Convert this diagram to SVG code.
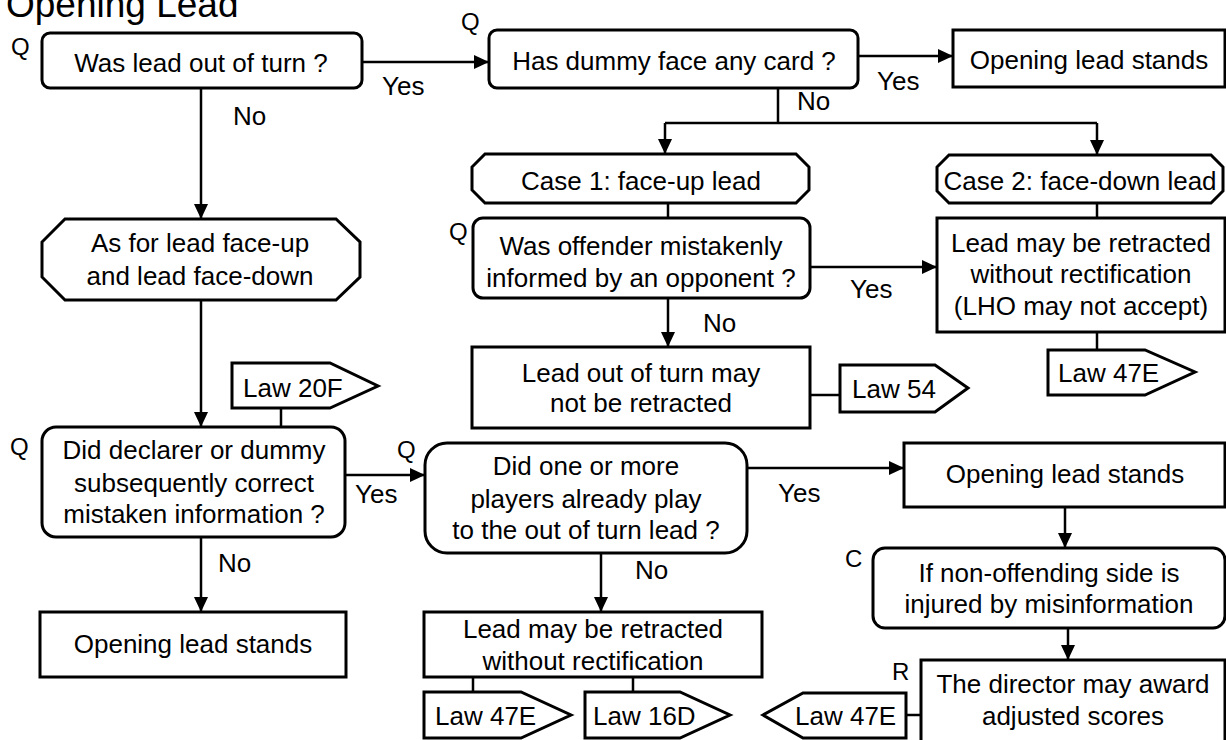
<svg xmlns="http://www.w3.org/2000/svg" width="1226" height="740" viewBox="0 0 1226 740">
<style>
text{font-family:"Liberation Sans",Arial,sans-serif;font-size:26px;fill:#000}
.c{text-anchor:middle}
.t{font-size:37px}
.lbl{font-size:24px}
.box{fill:#fff;stroke:#000;stroke-width:3}
.ln{fill:none;stroke:#000;stroke-width:2.5}
.ar{fill:none;stroke:#000;stroke-width:2.5;marker-end:url(#ah)}
</style>
<defs>
<marker id="ah" markerUnits="userSpaceOnUse" markerWidth="15" markerHeight="14" refX="15" refY="7" orient="auto">
<path d="M0,0 L15,7 L0,14 z" fill="#000"/>
</marker>
</defs>
<rect width="1226" height="740" fill="#fff"/>
<text class="t" x="6" y="17">Opening Lead</text>

<g id="connectors">
<path class="ar" d="M362,62 H489"/>
<path class="ar" d="M858,56 H953"/>
<path class="ar" d="M201,88 V219"/>
<path class="ln" d="M778,88 V123 M665,123 H1097"/>
<path class="ar" d="M665,123 V154"/>
<path class="ar" d="M1097,123 V155"/>
<path class="ln" d="M668,203 V218"/>
<path class="ln" d="M1097,203 V218"/>
<path class="ar" d="M810,267 H937"/>
<path class="ar" d="M668,298 V347"/>
<path class="ln" d="M810,395 H840"/>
<path class="ln" d="M1097,332 V350"/>
<path class="ar" d="M201,300 V427"/>
<path class="ln" d="M281,408 V427"/>
<path class="ar" d="M345,475 H425"/>
<path class="ar" d="M201,537 V612"/>
<path class="ar" d="M747,468 H904"/>
<path class="ar" d="M601,553 V612"/>
<path class="ln" d="M473,677 V692 M633,677 V692"/>
<path class="ar" d="M1065,507 V548"/>
<path class="ar" d="M1068,628 V660"/>
<path class="ln" d="M906,715 H921"/>
<text x="382" y="95">Yes</text>
<text x="877" y="90">Yes</text>
<text x="850" y="298">Yes</text>
<text x="355" y="503">Yes</text>
<text x="778" y="502">Yes</text>
<text x="233" y="125">No</text>
<text x="797" y="110">No</text>
<text x="703" y="332">No</text>
<text x="218" y="572">No</text>
<text x="635" y="579">No</text>
</g>

<g id="q1">
<rect class="box" x="42" y="33" width="320" height="55" rx="8"/>
<text class="lbl" x="11" y="55">Q</text>
<text class="c" x="201" y="72">Was lead out of turn ?</text>
</g>
<g id="q2">
<rect class="box" x="489" y="30" width="369" height="58" rx="8"/>
<text class="lbl" x="461" y="30">Q</text>
<text class="c" x="674" y="70">Has dummy face any card ?</text>
</g>
<g id="stands1">
<rect class="box" x="953" y="30" width="272" height="57"/>
<text class="c" x="1089" y="69">Opening lead stands</text>
</g>
<g id="asfor">
<polygon class="box" points="65,219 336,219 360,242 360,277 336,300 65,300 42,277 42,242"/>
<text class="c" x="200" y="252">As for lead face-up</text>
<text class="c" x="200" y="285">and lead face-down</text>
</g>
<g id="case1">
<polygon class="box" points="485,154 796,154 809,167 809,190 796,203 485,203 472,190 472,167"/>
<text class="c" x="641" y="190">Case 1: face-up lead</text>
</g>
<g id="case2">
<polygon class="box" points="949,155 1211,155 1223,167 1223,191 1211,203 949,203 937,191 937,167"/>
<text class="c" x="1080" y="190">Case 2: face-down lead</text>
</g>
<g id="q3">
<rect class="box" x="473" y="218" width="337" height="80" rx="10"/>
<text class="lbl" x="449" y="240">Q</text>
<text class="c" x="641" y="255">Was offender mistakenly</text>
<text class="c" x="641" y="287">informed by an opponent ?</text>
</g>
<g id="retract1">
<rect class="box" x="937" y="218" width="288" height="114"/>
<text class="c" x="1081" y="252">Lead may be retracted</text>
<text class="c" x="1081" y="283">without rectification</text>
<text class="c" x="1081" y="315">(LHO may not accept)</text>
</g>
<g id="law47e-1">
<polygon class="box" points="1048,350 1145,350 1195,372 1145,395 1048,395"/>
<text x="1058" y="382">Law 47E</text>
</g>
<g id="notretract">
<rect class="box" x="472" y="347" width="338" height="81"/>
<text class="c" x="641" y="382">Lead out of turn may</text>
<text class="c" x="641" y="412">not be retracted</text>
</g>
<g id="law54">
<polygon class="box" points="840,365 935,365 968,388 935,412 840,412"/>
<text x="852" y="398">Law 54</text>
</g>
<g id="law20f">
<polygon class="box" points="232,363 330,363 378,386 330,408 232,408"/>
<text x="243" y="397">Law 20F</text>
</g>
<g id="q4">
<rect class="box" x="42" y="427" width="303" height="110" rx="14"/>
<text class="lbl" x="10" y="455">Q</text>
<text class="c" x="194" y="459">Did declarer or dummy</text>
<text class="c" x="194" y="492">subsequently correct</text>
<text class="c" x="194" y="523">mistaken information ?</text>
</g>
<g id="stands2">
<rect class="box" x="40" y="612" width="306" height="65"/>
<text class="c" x="193" y="653">Opening lead stands</text>
</g>
<g id="q5">
<rect class="box" x="425" y="443" width="322" height="110" rx="22"/>
<text class="lbl" x="397" y="458">Q</text>
<text class="c" x="586" y="475">Did one or more</text>
<text class="c" x="586" y="508">players already play</text>
<text class="c" x="586" y="539">to the out of turn lead ?</text>
</g>
<g id="retract2">
<rect class="box" x="424" y="612" width="338" height="65"/>
<text class="c" x="593" y="638">Lead may be retracted</text>
<text class="c" x="593" y="670">without rectification</text>
</g>
<g id="law47e-2">
<polygon class="box" points="424,692 521,692 571,715 521,738 424,738"/>
<text x="435" y="725">Law 47E</text>
</g>
<g id="law16d">
<polygon class="box" points="585,692 680,692 730,715 680,738 585,738"/>
<text x="593" y="725">Law 16D</text>
</g>
<g id="stands3">
<rect class="box" x="904" y="443" width="321" height="64"/>
<text class="c" x="1065" y="483">Opening lead stands</text>
</g>
<g id="cond">
<rect class="box" x="873" y="548" width="352" height="80" rx="12"/>
<text class="lbl" x="845" y="567">C</text>
<text class="c" x="1049" y="582">If non-offending side is</text>
<text class="c" x="1049" y="613">injured by misinformation</text>
</g>
<g id="ruling">
<rect class="box" x="921" y="660" width="304" height="84"/>
<text class="lbl" x="892" y="680">R</text>
<text class="c" x="1073" y="693">The director may award</text>
<text class="c" x="1073" y="725">adjusted scores</text>
</g>
<g id="law47e-3">
<polygon class="box" points="906,693 803,693 763,715 803,738 906,738"/>
<text x="795" y="725">Law 47E</text>
</g>
</svg>
